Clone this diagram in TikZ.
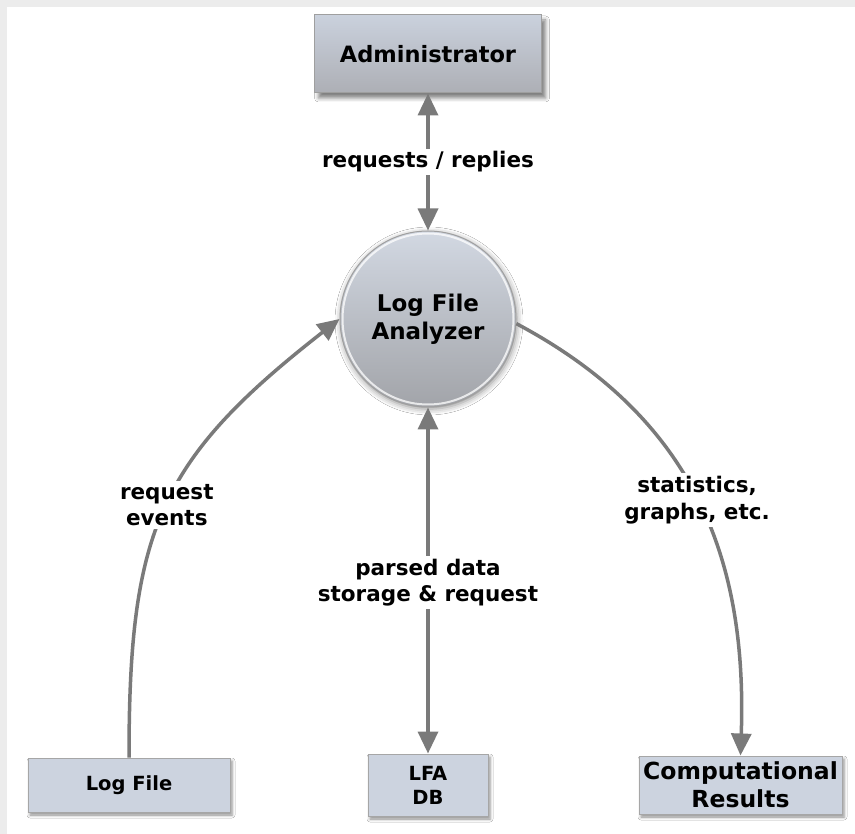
\documentclass[tikz,border=0pt]{standalone}
\usepackage{fontspec}
\setmainfont{DejaVu Sans}
\usetikzlibrary{arrows.meta,shadows.blur}
\definecolor{arrowgray}{HTML}{7A7A7A}
\definecolor{framegray}{HTML}{ECECEC}
\definecolor{boxfill}{HTML}{CCD3DF}
\definecolor{boxtop}{HTML}{CAD1DD}
\definecolor{boxbottom}{HTML}{ADAFB5}
\definecolor{balltop}{HTML}{D2D8E2}
\definecolor{ballbottom}{HTML}{A2A4A9}
\begin{document}
\begin{tikzpicture}[x=1pt,y=-1pt,
  leafbox/.style={rectangle, draw=gray!70, line width=1pt, fill=boxfill,
    inner sep=0pt, align=center,
    blur shadow={shadow xshift=2pt, shadow yshift=-3pt, shadow blur radius=3pt, shadow opacity=45}},
  actorbox/.style={rectangle, draw=gray!75, line width=1pt,
    top color=boxtop, bottom color=boxbottom, inner sep=0pt, align=center,
    minimum width=227pt, minimum height=78pt,
    font=\bfseries\fontsize{22.5}{27}\selectfont,
    blur shadow={shadow xshift=4pt, shadow yshift=-5pt, shadow blur radius=4pt, shadow opacity=50}},
  process/.style={circle, draw=gray!75, line width=1pt,
    top color=balltop, bottom color=ballbottom, inner sep=0pt,
    minimum size=176pt, align=center,
    font=\bfseries\fontsize{23}{28}\selectfont,
    blur shadow={shadow xshift=1pt, shadow yshift=-2pt, shadow blur radius=6pt, shadow opacity=45}},
  flowlabel/.style={fill=white, inner sep=3pt, align=center,
    font=\bfseries\fontsize{21.5}{26.5}\selectfont},
  flow/.style={draw=arrowgray, line width=3.5pt},
  tip/.tip={Triangle[length=22pt,width=20pt]},
]
% canvas and frame
\fill[white] (0,0) rectangle (855,834);
\useasboundingbox (0,0) rectangle (855,834);
\fill[framegray] (0,0) rectangle (855,7);
\fill[framegray] (0,0) rectangle (7,834);

% nodes
\node[actorbox] (admin) at (428,54) {Administrator};
\node[process] (ana) at (428,319) {Log File\\Analyzer};
\draw[white, opacity=0.75, line width=2pt] (ana.center) circle[radius=85.5];
\node[leafbox, minimum width=202pt, minimum height=54pt,
  font=\bfseries\fontsize{19.5}{24}\selectfont] (log) at (129,785) {Log File};
\node[leafbox, minimum width=120pt, minimum height=62pt,
  font=\bfseries\fontsize{19.5}{24}\selectfont] (db) at (428,785) {LFA\\DB};
\node[leafbox, minimum width=203pt, minimum height=58pt,
  font=\bfseries\fontsize{23.5}{28}\selectfont] (res) at (740.5,785) {Computational\\Results};

% connectors
\draw[flow, {tip}-{tip}] (admin) -- node[flowlabel] {requests / replies} (ana);
\draw[flow, {tip}-{tip}] (ana) -- node[flowlabel, yshift=-2pt] {parsed data\\storage \& request} (db);
\draw[flow, -{tip}] (log.north) to[out=90, in=218, looseness=1.2]
  node[flowlabel] {request\\events} (ana.180);
\draw[flow, -{tip}] (ana.-3) to[out=-28, in=88, looseness=1.05]
  node[flowlabel] {statistics,\\graphs, etc.} (res.north);
\end{tikzpicture}
\end{document}
